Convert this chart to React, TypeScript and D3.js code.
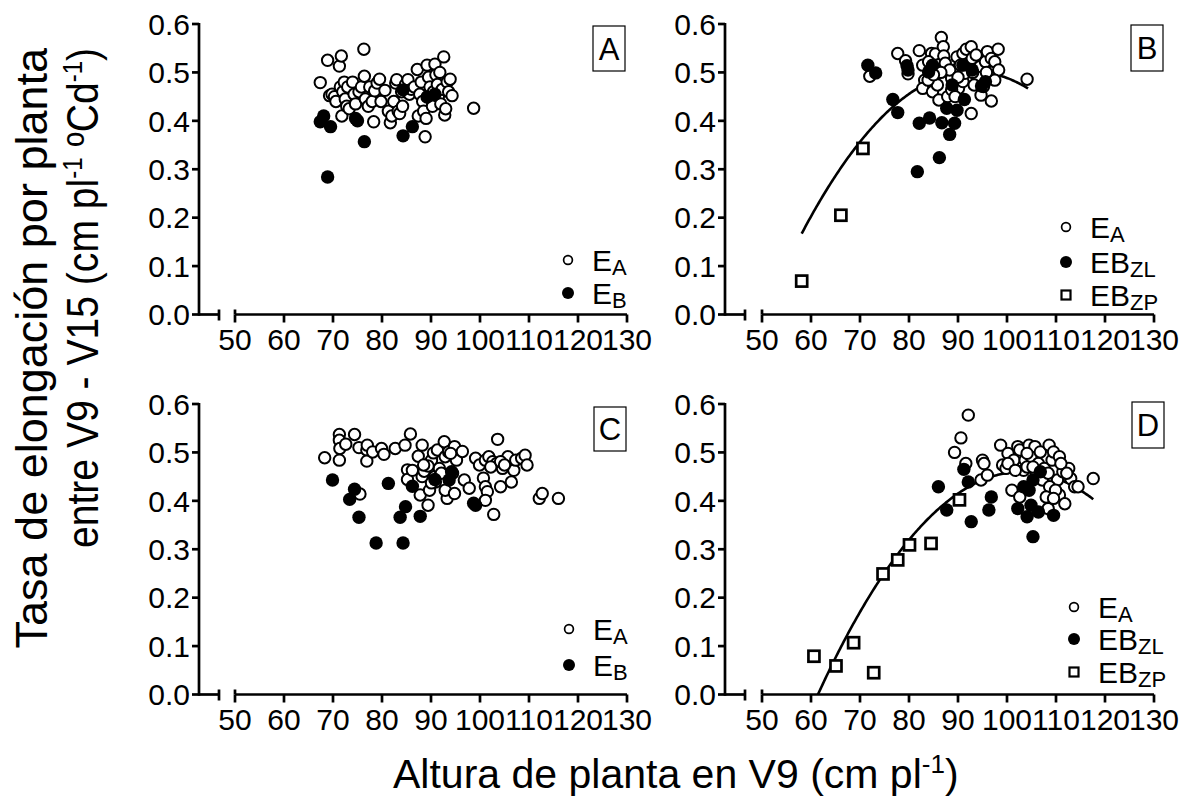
import React from "react";
import * as d3 from "d3";

// ---------------- DATA ----------------
const xTickValues = [50, 60, 70, 80, 90, 100, 110, 120, 130];
const yTickValues = [0, 0.1, 0.2, 0.3, 0.4, 0.5, 0.6];
const yTickLabels = ["0.0", "0.1", "0.2", "0.3", "0.4", "0.5", "0.6"];

// Panel A
const aEA: [number, number][] = [
  [67.4, 0.479], [68.9, 0.525], [69.3, 0.452], [69.8, 0.455], [70.3, 0.45], [70.6, 0.44],
  [71.3, 0.513], [71.7, 0.534], [71.5, 0.47], [71.8, 0.41], [72.0, 0.46], [72.3, 0.48],
  [72.5, 0.445], [72.8, 0.43], [73.0, 0.47], [73.3, 0.425], [74.0, 0.48], [74.3, 0.455],
  [74.6, 0.435], [75.3, 0.46], [75.8, 0.47], [76.3, 0.548], [76.4, 0.492], [76.6, 0.445],
  [77.2, 0.43], [77.5, 0.47], [78.0, 0.44], [78.3, 0.398], [78.5, 0.462], [79.0, 0.478],
  [79.5, 0.486], [79.8, 0.44], [80.6, 0.463], [81.3, 0.42], [81.7, 0.396], [82.0, 0.41],
  [82.4, 0.44], [82.8, 0.478], [83.0, 0.485], [83.3, 0.42], [83.6, 0.415], [84.0, 0.46],
  [84.2, 0.43], [84.8, 0.475], [85.3, 0.485], [85.6, 0.455], [86.0, 0.465], [86.6, 0.47],
  [87.2, 0.506], [87.4, 0.41], [87.7, 0.455], [88.0, 0.48], [88.3, 0.44], [88.5, 0.42],
  [88.8, 0.367], [89.0, 0.405], [89.2, 0.515], [89.5, 0.49], [89.8, 0.47], [90.0, 0.445],
  [90.3, 0.43], [90.5, 0.46], [90.8, 0.517], [91.0, 0.495], [91.3, 0.475], [91.5, 0.45],
  [91.8, 0.5], [92.0, 0.435], [92.3, 0.465], [92.6, 0.532], [92.8, 0.412], [93.0, 0.425],
  [93.3, 0.48], [93.6, 0.46], [93.9, 0.486], [94.3, 0.452], [98.7, 0.426],
];
const aEB: [number, number][] = [
  [67.4, 0.398], [68.1, 0.41], [69.5, 0.388], [68.9, 0.284], [74.6, 0.405], [75.0, 0.4],
  [76.4, 0.357], [84.3, 0.369], [86.2, 0.388], [84.3, 0.464], [89.2, 0.449], [90.8, 0.455],
];

// Panel B
const bEA: [number, number][] = [
  [72.0, 0.492], [77.7, 0.539], [79.3, 0.524], [79.8, 0.497], [82.1, 0.545], [82.8, 0.515],
  [83.2, 0.484], [82.8, 0.467], [84.6, 0.539], [84.8, 0.46], [85.4, 0.538], [86.6, 0.572],
  [87.0, 0.553], [87.1, 0.534], [87.4, 0.519], [86.1, 0.443], [87.9, 0.45], [89.4, 0.505],
  [89.8, 0.532], [91.0, 0.539], [91.7, 0.548], [92.7, 0.553], [92.9, 0.529], [93.7, 0.536],
  [94.5, 0.512], [94.8, 0.488], [95.6, 0.522], [96.0, 0.543], [96.8, 0.529], [97.1, 0.501],
  [97.5, 0.522], [98.2, 0.548], [98.3, 0.505], [97.5, 0.484], [96.8, 0.441], [94.7, 0.453],
  [92.7, 0.415], [90.1, 0.467], [91.0, 0.481], [88.7, 0.488], [88.7, 0.464], [85.8, 0.474],
  [83.9, 0.484], [104.1, 0.486], [94.0, 0.49], [92.1, 0.505], [93.3, 0.474], [91.4, 0.498],
  [95.2, 0.471], [89.4, 0.45], [88.3, 0.505], [84.0, 0.522], [90.5, 0.515], [93.0, 0.5],
  [95.8, 0.5], [86.5, 0.5], [85.0, 0.495], [90.0, 0.49],
];
const bEBZL: [number, number][] = [
  [71.6, 0.515], [73.2, 0.499], [76.7, 0.444], [77.7, 0.417], [79.6, 0.514], [79.8, 0.505],
  [82.1, 0.395], [84.2, 0.406], [81.7, 0.295], [86.2, 0.324], [86.7, 0.396], [88.3, 0.372],
  [87.7, 0.426], [89.3, 0.395], [89.8, 0.422], [91.3, 0.444], [84.8, 0.515], [84.0, 0.501],
  [94.8, 0.472], [95.6, 0.481], [91.0, 0.515], [92.9, 0.505], [88.8, 0.474],
];
const bEBZP: [number, number][] = [[58.1, 0.069], [66.1, 0.205], [70.6, 0.343]];
const bFit = { a: -1.8765, b: 0.05115, c: -0.000275, from: 58.1, to: 104.3 };

// Panel C
const cEA: [number, number][] = [
  [68.3, 0.489], [71.3, 0.537], [71.3, 0.525], [71.4, 0.508], [71.3, 0.484], [72.6, 0.517],
  [74.4, 0.537], [75.3, 0.51], [75.5, 0.414], [76.9, 0.505], [76.9, 0.482], [77.0, 0.515],
  [78.1, 0.501], [79.9, 0.508], [80.4, 0.496], [82.7, 0.508], [84.7, 0.515], [85.8, 0.538],
  [85.2, 0.464], [85.2, 0.444], [86.2, 0.463], [87.4, 0.492], [88.2, 0.515], [87.8, 0.412],
  [88.2, 0.45], [88.6, 0.461], [89.4, 0.391], [89.7, 0.422], [90.1, 0.484], [90.5, 0.499],
  [90.8, 0.45], [90.9, 0.439], [91.3, 0.505], [91.7, 0.467], [92.7, 0.522], [92.9, 0.491],
  [93.3, 0.405], [92.9, 0.422], [93.6, 0.501], [94.8, 0.512], [94.8, 0.415], [95.2, 0.484],
  [96.4, 0.502], [96.8, 0.443], [97.8, 0.426], [99.1, 0.488], [99.9, 0.474], [101.1, 0.484],
  [100.7, 0.447], [101.1, 0.429], [101.5, 0.419], [101.1, 0.401], [101.8, 0.491], [102.6, 0.481],
  [102.8, 0.372], [103.6, 0.527], [103.4, 0.477], [104.2, 0.429], [104.6, 0.467], [105.3, 0.484],
  [105.7, 0.491], [106.4, 0.439], [106.9, 0.463], [107.3, 0.484], [108.5, 0.488], [109.2, 0.494],
  [109.6, 0.474], [112.1, 0.405], [112.7, 0.415], [116.0, 0.405], [89.4, 0.472], [88.5, 0.474],
  [90.1, 0.437], [92.1, 0.457], [94.0, 0.498], [94.4, 0.457], [102.2, 0.47], [104.2, 0.481],
  [105.0, 0.474],
];
const cEB: [number, number][] = [
  [69.9, 0.443], [74.4, 0.424], [73.4, 0.403], [75.3, 0.366], [78.8, 0.313], [81.3, 0.436],
  [84.3, 0.313], [83.7, 0.366], [84.8, 0.388], [86.2, 0.43], [87.8, 0.368], [90.8, 0.444],
  [94.2, 0.46], [93.7, 0.443], [99.1, 0.391], [98.7, 0.395],
];

// Panel D
const dEA: [number, number][] = [
  [92.1, 0.577], [90.6, 0.53], [89.3, 0.5], [91.6, 0.477], [95.0, 0.484], [95.3, 0.477],
  [94.7, 0.443], [96.0, 0.453], [98.7, 0.515], [99.1, 0.474], [99.8, 0.467], [100.2, 0.498],
  [101.0, 0.422], [101.4, 0.484], [102.2, 0.512], [102.6, 0.505], [102.6, 0.408], [103.4, 0.463],
  [103.7, 0.484], [104.5, 0.515], [104.9, 0.491], [105.7, 0.512], [106.4, 0.477], [106.8, 0.501],
  [107.6, 0.467], [108.4, 0.384], [108.6, 0.515], [109.2, 0.484], [109.5, 0.501], [110.3, 0.443],
  [110.7, 0.491], [110.7, 0.412], [111.4, 0.46], [111.8, 0.394], [112.6, 0.467], [113.0, 0.446],
  [113.8, 0.429], [114.5, 0.429], [117.6, 0.446], [100.2, 0.477], [101.7, 0.463], [104.1, 0.47],
  [106.0, 0.457], [107.2, 0.443], [108.7, 0.429], [109.9, 0.422], [108.0, 0.408], [109.5, 0.405],
  [104.1, 0.498], [105.3, 0.47], [108.4, 0.457], [111.0, 0.477], [112.2, 0.457],
];
const dEBZL: [number, number][] = [
  [86.0, 0.429], [87.7, 0.381], [91.2, 0.465], [92.1, 0.439], [92.7, 0.357], [96.8, 0.408],
  [96.3, 0.381], [102.2, 0.384], [104.1, 0.367], [104.9, 0.391], [105.3, 0.326], [106.4, 0.377],
  [109.5, 0.37], [104.5, 0.422], [103.4, 0.429], [105.3, 0.443], [106.8, 0.46],
];
const dEBZP: [number, number][] = [
  [60.6, 0.079], [65.1, 0.059], [68.7, 0.107], [72.8, 0.045], [74.7, 0.249], [77.7, 0.278],
  [80.1, 0.309], [84.5, 0.312], [90.3, 0.402],
];
const dFit = { a: -2.362, b: 0.054796, c: -0.000266, from: 61.4, to: 117.6 };

// ---------------- LAYOUT ----------------
const FONT = "'Liberation Sans', Arial, Helvetica, sans-serif";

type Legend = { label: string; sub: string; kind: "open" | "filled" | "square" };

interface PanelCfg {
  letter: string;
  axisX: number;
  x50: number;
  x130: number;
  yTop: number;
  yBottom: number;
  box: [number, number, number, number];
  legendX: number;
  legendRows: number[];
  legend: Legend[];
  open: [number, number][];
  filled: [number, number][];
  squares: [number, number][];
  fit?: { a: number; b: number; c: number; from: number; to: number };
}

const panels: PanelCfg[] = [
  {
    letter: "A", axisX: 199, x50: 235, x130: 627, yTop: 24, yBottom: 314.5,
    box: [593, 26, 32, 45], legendX: 568, legendRows: [260, 293],
    legend: [{ label: "E", sub: "A", kind: "open" }, { label: "E", sub: "B", kind: "filled" }],
    open: aEA, filled: aEB, squares: [],
  },
  {
    letter: "B", axisX: 725, x50: 762, x130: 1154, yTop: 24, yBottom: 314.5,
    box: [1131, 25, 32, 46], legendX: 1066, legendRows: [227, 262, 295],
    legend: [
      { label: "E", sub: "A", kind: "open" },
      { label: "EB", sub: "ZL", kind: "filled" },
      { label: "EB", sub: "ZP", kind: "square" },
    ],
    open: bEA, filled: bEBZL, squares: bEBZP, fit: bFit,
  },
  {
    letter: "C", axisX: 199, x50: 235, x130: 627, yTop: 404, yBottom: 694.5,
    box: [594, 407, 32, 44], legendX: 569, legendRows: [629, 665],
    legend: [{ label: "E", sub: "A", kind: "open" }, { label: "E", sub: "B", kind: "filled" }],
    open: cEA, filled: cEB, squares: [],
  },
  {
    letter: "D", axisX: 725, x50: 762, x130: 1154, yTop: 404, yBottom: 694.5,
    box: [1132, 402, 32, 46], legendX: 1074, legendRows: [607, 639, 672],
    legend: [
      { label: "E", sub: "A", kind: "open" },
      { label: "EB", sub: "ZL", kind: "filled" },
      { label: "EB", sub: "ZP", kind: "square" },
    ],
    open: dEA, filled: dEBZL, squares: dEBZP, fit: dFit,
  },
];

const SW = 2.7;

function Marker({ kind, x, y, small }: { kind: string; x: number; y: number; small?: boolean }) {
  if (kind === "open") {
    const r = small ? 4.4 : 5.7;
    return <circle cx={x} cy={y} r={r} fill="white" stroke="black" strokeWidth={small ? 1.7 : 2} />;
  }
  if (kind === "filled") return <circle cx={x} cy={y} r={small ? 6 : 6.7} fill="black" />;
  const s = small ? 9 : 11;
  return (
    <rect x={x - s / 2} y={y - s / 2} width={s} height={s} fill="white" stroke="black" strokeWidth={small ? 2.2 : 2.7} />
  );
}

function Panel({ p }: { p: PanelCfg }) {
  const x = d3.scaleLinear().domain([50, 130]).range([p.x50, p.x130]);
  const y = d3.scaleLinear().domain([0, 0.6]).range([p.yBottom, p.yTop]);
  const breakX = p.axisX + 20;
  const fitPath = p.fit
    ? d3
        .line<number>()
        .x((v) => x(v))
        .y((v) => y(p.fit!.a + p.fit!.b * v + p.fit!.c * v * v))(
        d3.range(p.fit.from, p.fit.to, 0.25).concat([p.fit.to])
      )
    : null;
  return (
    <g>
      {/* y axis */}
      <line x1={p.axisX} x2={p.axisX} y1={y(0.6) - 1} y2={y(0) + SW / 2} stroke="black" strokeWidth={SW} />
      {yTickValues.map((t, i) => (
        <g key={"yt" + i}>
          <line x1={p.axisX - 7} x2={p.axisX} y1={y(t)} y2={y(t)} stroke="black" strokeWidth={SW} />
          <text x={p.axisX - 9} y={y(t) + 10.7} textAnchor="end" fontSize={30} fontFamily={FONT}>
            {yTickLabels[i]}
          </text>
        </g>
      ))}
      {/* x axis with break */}
      <line x1={p.axisX} x2={breakX} y1={y(0)} y2={y(0)} stroke="black" strokeWidth={SW} />
      <line x1={breakX} x2={breakX} y1={y(0) - 5} y2={y(0) + 6} stroke="black" strokeWidth={SW} />
      <line x1={x(50)} x2={x(130)} y1={y(0)} y2={y(0)} stroke="black" strokeWidth={SW} />
      <line x1={x(50)} x2={x(50)} y1={y(0) - 5} y2={y(0)} stroke="black" strokeWidth={SW} />
      {xTickValues.map((t) => (
        <g key={"xt" + t}>
          <line x1={x(t)} x2={x(t)} y1={y(0)} y2={y(0) + 8} stroke="black" strokeWidth={SW} />
          <text x={x(t)} y={y(0) + 35} textAnchor="middle" fontSize={30} fontFamily={FONT}>
            {t}
          </text>
        </g>
      ))}
      {/* fit */}
      {fitPath && <path d={fitPath} fill="none" stroke="black" strokeWidth={2.6} />}
      {/* points */}
      {p.squares.map((d, i) => (
        <Marker key={"s" + i} kind="square" x={x(d[0])} y={y(d[1])} />
      ))}
      {p.open.map((d, i) => (
        <Marker key={"o" + i} kind="open" x={x(d[0])} y={y(d[1])} />
      ))}
      {p.filled.map((d, i) => (
        <Marker key={"f" + i} kind="filled" x={x(d[0])} y={y(d[1])} />
      ))}
      {/* letter box */}
      <rect x={p.box[0]} y={p.box[1]} width={p.box[2]} height={p.box[3]} fill="white" stroke="black" strokeWidth={1.2} />
      <text
        x={p.box[0] + p.box[2] / 2}
        y={p.box[1] + p.box[3] / 2 + 11}
        textAnchor="middle"
        fontSize={31}
        fontFamily={FONT}
      >
        {p.letter}
      </text>
      {/* legend */}
      {p.legend.map((l, i) => (
        <g key={"lg" + i}>
          <Marker kind={l.kind} x={p.legendX} y={p.legendRows[i]} small />
          <text x={p.legendX + 24} y={p.legendRows[i] + 11} fontSize={30} fontFamily={FONT}>
            {l.label}
            <tspan fontSize={22} dy={4}>
              {l.sub}
            </tspan>
          </text>
        </g>
      ))}
    </g>
  );
}

export default function App() {
  return (
    <svg width={1192} height={801} style={{ display: "block", position: "absolute", left: 0, top: 0, background: "white" }}>
      <rect width={1192} height={801} fill="white" />
      {panels.map((p) => (
        <Panel key={p.letter} p={p} />
      ))}
      {/* y title */}
      <text transform="translate(47,48) rotate(-90)" textAnchor="end" fontSize={45} fontFamily={FONT}>
        Tasa de elongación por planta
      </text>
      <text
        transform="translate(98,48) rotate(-90)"
        textAnchor="end"
        fontSize={44}
        fontFamily={FONT}
        textLength={500}
        lengthAdjust="spacingAndGlyphs"
      >
        entre V9 - V15 (cm pl
        <tspan fontSize={27} dy={-16}>-1</tspan>
        <tspan dy={16}> º</tspan>
        Cd
        <tspan fontSize={27} dy={-16}>-1</tspan>
        <tspan dy={16}>)</tspan>
      </text>
      {/* x title */}
      <text x={393} y={788} fontSize={41} fontFamily={FONT}>
        Altura de planta en V9 (cm pl
        <tspan fontSize={26} dy={-15}>-1</tspan>
        <tspan dy={15}>)</tspan>
      </text>
    </svg>
  );
}
